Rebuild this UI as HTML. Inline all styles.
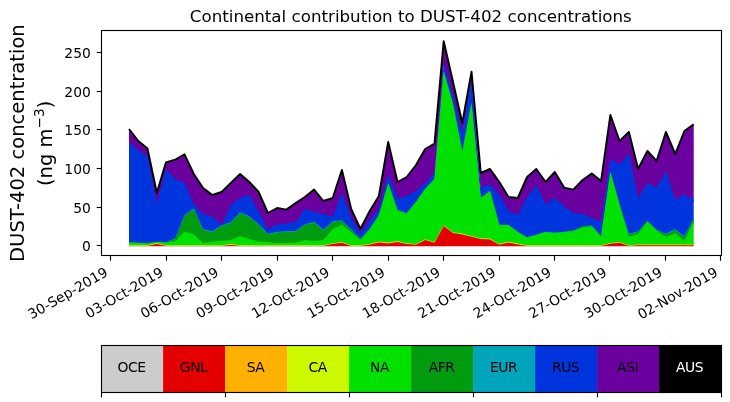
<!DOCTYPE html>
<html><head><meta charset="utf-8"><title>Continental contribution to DUST-402 concentrations</title>
<style>
html,body{margin:0;padding:0;background:#fff;}
body{width:730px;height:402px;overflow:hidden;}
svg{display:block;}
svg text{font-family:"DejaVu Sans","Liberation Sans",sans-serif;}
</style></head><body>
<svg width="730" height="402" viewBox="0 0 730 402">
<rect width="730" height="402" fill="#fff"/>
<g>
<polygon points="129.0,129.00 138.3,141.00 147.5,148.60 156.8,193.00 166.0,162.40 175.3,159.60 184.5,154.40 193.8,174.00 203.1,188.00 212.3,195.00 221.6,192.00 230.8,183.00 240.1,174.00 249.3,182.00 258.6,192.00 267.9,213.00 277.1,208.00 286.4,209.60 295.6,203.00 304.9,197.00 314.1,189.60 323.4,201.00 332.7,198.00 341.9,170.00 351.2,209.00 360.4,229.00 369.7,211.00 378.9,196.00 388.2,142.00 397.5,182.00 406.7,177.00 416.0,165.00 425.2,149.00 434.5,143.60 443.7,41.30 453.0,82.00 462.3,123.00 471.5,71.80 480.8,173.00 490.0,169.00 499.3,182.00 508.5,197.00 517.8,198.00 527.1,177.00 536.3,169.00 545.6,182.00 554.8,172.00 564.1,187.60 573.3,189.60 582.6,180.00 591.8,173.50 601.1,181.00 610.4,115.00 619.6,141.00 628.9,132.00 638.1,169.00 647.4,151.00 656.6,161.00 665.9,132.00 675.2,154.00 684.4,131.00 693.7,124.40 693.7,202.00 684.4,198.00 675.2,202.60 665.9,174.00 656.6,190.60 647.4,186.00 638.1,201.00 628.9,156.60 619.6,167.40 610.4,162.00 601.1,225.00 591.8,221.00 582.6,217.00 573.3,216.00 564.1,209.00 554.8,201.00 545.6,207.00 536.3,188.00 527.1,200.00 517.8,218.00 508.5,214.00 499.3,198.00 490.0,187.00 480.8,191.00 471.5,83.00 462.3,135.00 453.0,98.00 443.7,66.00 434.5,176.00 425.2,186.00 416.0,194.00 406.7,199.00 397.5,201.00 388.2,177.00 378.9,212.00 369.7,223.00 360.4,236.00 351.2,221.00 341.9,196.00 332.7,219.40 323.4,217.00 314.1,215.00 304.9,212.00 295.6,225.00 286.4,226.60 277.1,227.40 267.9,232.00 258.6,214.50 249.3,198.00 240.1,201.00 230.8,208.00 221.6,228.00 212.3,219.40 203.1,217.00 193.8,207.00 184.5,186.00 175.3,182.00 166.0,172.00 156.8,206.50 147.5,159.00 138.3,153.00 129.0,145.00" fill="#6a009d"/>
<polygon points="129.0,142.00 138.3,150.00 147.5,156.00 156.8,203.50 166.0,169.00 175.3,179.00 184.5,183.00 193.8,204.00 203.1,214.00 212.3,216.40 221.6,225.00 230.8,205.00 240.1,198.00 249.3,195.00 258.6,211.50 267.9,229.00 277.1,224.40 286.4,223.60 295.6,222.00 304.9,209.00 314.1,212.00 323.4,214.00 332.7,216.40 341.9,193.00 351.2,218.00 360.4,233.00 369.7,220.00 378.9,209.00 388.2,174.00 397.5,198.00 406.7,196.00 416.0,191.00 425.2,183.00 434.5,173.00 443.7,63.00 453.0,95.00 462.3,132.00 471.5,80.00 480.8,188.00 490.0,184.00 499.3,195.00 508.5,211.00 517.8,215.00 527.1,197.00 536.3,185.00 545.6,204.00 554.8,198.00 564.1,206.00 573.3,213.00 582.6,214.00 591.8,218.00 601.1,222.00 610.4,159.00 619.6,164.40 628.9,153.60 638.1,198.00 647.4,183.00 656.6,187.60 665.9,171.00 675.2,199.60 684.4,195.00 693.7,199.00 693.7,221.30 684.4,239.30 675.2,232.30 665.9,236.70 656.6,232.75 647.4,223.75 638.1,234.30 628.9,236.70 619.6,207.75 610.4,174.75 601.1,239.15 591.8,228.35 582.6,229.15 573.3,233.75 564.1,234.75 554.8,235.75 545.6,234.75 536.3,237.75 527.1,240.35 517.8,234.75 508.5,227.75 499.3,227.75 490.0,193.75 480.8,200.75 471.5,105.75 462.3,154.75 453.0,106.75 443.7,74.35 434.5,181.75 425.2,191.75 416.0,204.75 406.7,216.35 397.5,212.75 388.2,185.75 378.9,217.75 369.7,231.75 360.4,241.75 351.2,232.30 341.9,223.30 332.7,224.30 323.4,232.70 314.1,224.70 304.9,227.30 295.6,233.90 286.4,234.30 277.1,234.70 267.9,236.70 258.6,227.30 249.3,219.30 240.1,215.30 230.8,225.30 221.6,228.30 212.3,234.30 203.1,232.30 193.8,211.30 184.5,218.30 175.3,241.30 166.0,245.15 156.8,244.75 147.5,246.00 138.3,245.75 129.0,245.15" fill="#0035dd"/>
<polygon points="129.0,242.15 138.3,242.75 147.5,243.35 156.8,241.75 166.0,242.15 175.3,238.30 184.5,215.30 193.8,208.30 203.1,229.30 212.3,231.30 221.6,225.30 230.8,222.30 240.1,212.30 249.3,216.30 258.6,224.30 267.9,233.70 277.1,231.70 286.4,231.30 295.6,230.90 304.9,224.30 314.1,221.70 323.4,229.70 332.7,221.30 341.9,220.30 351.2,229.30 360.4,238.75 369.7,228.75 378.9,214.75 388.2,182.75 397.5,209.75 406.7,213.35 416.0,201.75 425.2,188.75 434.5,178.75 443.7,71.35 453.0,103.75 462.3,151.75 471.5,102.75 480.8,197.75 490.0,190.75 499.3,224.75 508.5,224.75 517.8,231.75 527.1,237.35 536.3,234.75 545.6,231.75 554.8,232.75 564.1,231.75 573.3,230.75 582.6,226.15 591.8,225.35 601.1,236.15 610.4,171.75 619.6,204.75 628.9,233.70 638.1,231.30 647.4,220.75 656.6,229.75 665.9,233.70 675.2,229.30 684.4,236.30 693.7,218.30 693.7,222.00 684.4,240.00 675.2,233.00 665.9,237.40 656.6,233.00 647.4,224.00 638.1,235.00 628.9,237.40 619.6,208.00 610.4,175.00 601.1,239.40 591.8,228.60 582.6,229.40 573.3,234.00 564.1,235.00 554.8,236.00 545.6,235.00 536.3,238.00 527.1,240.60 517.8,235.00 508.5,228.00 499.3,228.00 490.0,194.00 480.8,201.00 471.5,106.00 462.3,155.00 453.0,107.00 443.7,74.60 434.5,182.00 425.2,192.00 416.0,205.00 406.7,216.60 397.5,213.00 388.2,186.00 378.9,218.00 369.7,232.00 360.4,242.00 351.2,233.00 341.9,224.00 332.7,225.00 323.4,233.40 314.1,225.40 304.9,228.00 295.6,234.60 286.4,235.00 277.1,235.40 267.9,237.40 258.6,228.00 249.3,220.00 240.1,216.00 230.8,226.00 221.6,229.00 212.3,235.00 203.1,233.00 193.8,212.00 184.5,219.00 175.3,242.00 166.0,245.40 156.8,245.00 147.5,246.00 138.3,246.00 129.0,245.40" fill="#00a4bb"/>
<polygon points="129.0,242.40 138.3,243.00 147.5,243.60 156.8,242.00 166.0,242.40 175.3,239.00 184.5,216.00 193.8,209.00 203.1,230.00 212.3,232.00 221.6,226.00 230.8,223.00 240.1,213.00 249.3,217.00 258.6,225.00 267.9,234.40 277.1,232.40 286.4,232.00 295.6,231.60 304.9,225.00 314.1,222.40 323.4,230.40 332.7,222.00 341.9,221.00 351.2,230.00 360.4,239.00 369.7,229.00 378.9,215.00 388.2,183.00 397.5,210.00 406.7,213.60 416.0,202.00 425.2,189.00 434.5,179.00 443.7,71.60 453.0,104.00 462.3,152.00 471.5,103.00 480.8,198.00 490.0,191.00 499.3,225.00 508.5,225.00 517.8,232.00 527.1,237.60 536.3,235.00 545.6,232.00 554.8,233.00 564.1,232.00 573.3,231.00 582.6,226.40 591.8,225.60 601.1,236.40 610.4,172.00 619.6,205.00 628.9,234.40 638.1,232.00 647.4,221.00 656.6,230.00 665.9,234.40 675.2,230.00 684.4,237.00 693.7,219.00 693.7,224.00 684.4,244.00 675.2,236.00 665.9,240.00 656.6,233.40 647.4,224.40 638.1,237.00 628.9,239.40 619.6,208.00 610.4,175.00 601.1,239.40 591.8,229.60 582.6,230.60 573.3,234.00 564.1,235.00 554.8,236.00 545.6,235.00 536.3,238.00 527.1,240.60 517.8,235.00 508.5,228.00 499.3,228.00 490.0,194.00 480.8,201.00 471.5,106.00 462.3,155.00 453.0,107.00 443.7,74.60 434.5,182.00 425.2,192.00 416.0,205.00 406.7,216.60 397.5,213.40 388.2,186.40 378.9,218.40 369.7,232.40 360.4,243.00 351.2,235.00 341.9,227.40 332.7,232.00 323.4,243.00 314.1,244.00 304.9,243.00 295.6,245.40 286.4,246.00 277.1,246.00 267.9,245.00 258.6,244.60 249.3,242.00 240.1,239.00 230.8,243.00 221.6,244.00 212.3,244.60 203.1,246.00 193.8,237.40 184.5,234.60 175.3,244.00 166.0,245.40 156.8,245.00 147.5,246.00 138.3,246.00 129.0,245.40" fill="#009b0f"/>
<polygon points="129.0,242.40 138.3,243.00 147.5,243.60 156.8,242.00 166.0,242.40 175.3,241.00 184.5,231.60 193.8,234.40 203.1,243.00 212.3,241.60 221.6,241.00 230.8,240.00 240.1,236.00 249.3,239.00 258.6,241.60 267.9,242.00 277.1,243.00 286.4,243.00 295.6,242.40 304.9,240.00 314.1,241.00 323.4,240.00 332.7,229.00 341.9,224.40 351.2,232.00 360.4,240.00 369.7,229.40 378.9,215.40 388.2,183.40 397.5,210.40 406.7,213.60 416.0,202.00 425.2,189.00 434.5,179.00 443.7,71.60 453.0,104.00 462.3,152.00 471.5,103.00 480.8,198.00 490.0,191.00 499.3,225.00 508.5,225.00 517.8,232.00 527.1,237.60 536.3,235.00 545.6,232.00 554.8,233.00 564.1,232.00 573.3,231.00 582.6,227.60 591.8,226.60 601.1,236.40 610.4,172.00 619.6,205.00 628.9,236.40 638.1,234.00 647.4,221.40 656.6,230.40 665.9,237.00 675.2,233.00 684.4,241.00 693.7,221.00 693.7,246.00 684.4,246.00 675.2,246.00 665.9,246.00 656.6,246.00 647.4,246.00 638.1,246.00 628.9,246.00 619.6,245.00 610.4,246.00 601.1,246.00 591.8,246.00 582.6,246.00 573.3,246.00 564.1,246.00 554.8,246.00 545.6,246.00 536.3,246.00 527.1,246.00 517.8,246.00 508.5,244.60 499.3,246.00 490.0,241.60 480.8,241.20 471.5,239.00 462.3,236.60 453.0,235.20 443.7,228.20 434.5,245.00 425.2,242.20 416.0,246.00 406.7,246.00 397.5,244.10 388.2,245.60 378.9,244.60 369.7,246.00 360.4,246.00 351.2,246.00 341.9,245.00 332.7,246.00 323.4,246.00 314.1,246.00 304.9,246.00 295.6,246.00 286.4,246.00 277.1,246.00 267.9,246.00 258.6,246.00 249.3,246.00 240.1,246.00 230.8,246.00 221.6,246.00 212.3,246.00 203.1,246.00 193.8,246.00 184.5,246.00 175.3,246.00 166.0,246.00 156.8,246.00 147.5,246.00 138.3,246.00 129.0,246.00" fill="#00e100"/>
<polygon points="129.0,245.15 138.3,245.15 147.5,245.15 156.8,243.10 166.0,245.15 175.3,245.15 184.5,245.15 193.8,245.15 203.1,245.15 212.3,245.15 221.6,245.15 230.8,244.00 240.1,245.15 249.3,245.15 258.6,245.15 267.9,245.15 277.1,245.15 286.4,245.15 295.6,245.15 304.9,245.15 314.1,245.15 323.4,245.15 332.7,243.20 341.9,242.00 351.2,245.15 360.4,245.15 369.7,244.00 378.9,241.60 388.2,242.60 397.5,241.10 406.7,243.20 416.0,244.00 425.2,239.20 434.5,242.00 443.7,225.20 453.0,232.20 462.3,233.60 471.5,236.00 480.8,238.20 490.0,238.60 499.3,244.00 508.5,241.60 517.8,243.60 527.1,245.15 536.3,245.15 545.6,245.15 554.8,245.15 564.1,245.15 573.3,245.15 582.6,245.15 591.8,245.15 601.1,245.15 610.4,243.00 619.6,242.00 628.9,245.15 638.1,244.55 647.4,244.55 656.6,244.55 665.9,244.55 675.2,244.55 684.4,244.55 693.7,244.55 693.7,246.00 684.4,246.00 675.2,246.00 665.9,246.00 656.6,246.00 647.4,246.00 638.1,246.00 628.9,246.00 619.6,245.60 610.4,246.00 601.1,246.00 591.8,246.00 582.6,246.00 573.3,246.00 564.1,246.00 554.8,246.00 545.6,246.00 536.3,246.00 527.1,246.00 517.8,246.00 508.5,245.20 499.3,246.00 490.0,242.20 480.8,241.80 471.5,239.60 462.3,237.20 453.0,235.80 443.7,228.80 434.5,245.60 425.2,242.80 416.0,246.00 406.7,246.00 397.5,244.70 388.2,246.00 378.9,245.20 369.7,246.00 360.4,246.00 351.2,246.00 341.9,245.60 332.7,246.00 323.4,246.00 314.1,246.00 304.9,246.00 295.6,246.00 286.4,246.00 277.1,246.00 267.9,246.00 258.6,246.00 249.3,246.00 240.1,246.00 230.8,246.00 221.6,246.00 212.3,246.00 203.1,246.00 193.8,246.00 184.5,246.00 175.3,246.00 166.0,246.00 156.8,246.00 147.5,246.00 138.3,246.00 129.0,246.00" fill="#ccf900"/>
<polygon points="129.0,245.75 138.3,245.75 147.5,245.75 156.8,243.70 166.0,245.75 175.3,245.75 184.5,245.75 193.8,245.75 203.1,245.75 212.3,245.75 221.6,245.75 230.8,244.90 240.1,245.75 249.3,245.75 258.6,245.75 267.9,245.75 277.1,245.75 286.4,245.75 295.6,245.75 304.9,245.75 314.1,245.75 323.4,245.75 332.7,243.80 341.9,242.60 351.2,245.75 360.4,245.75 369.7,244.60 378.9,242.20 388.2,243.20 397.5,241.70 406.7,243.80 416.0,244.60 425.2,239.80 434.5,242.60 443.7,225.80 453.0,232.80 462.3,234.20 471.5,236.60 480.8,238.80 490.0,239.20 499.3,244.60 508.5,242.20 517.8,244.20 527.1,245.75 536.3,245.75 545.6,245.75 554.8,245.75 564.1,245.75 573.3,245.75 582.6,245.75 591.8,245.75 601.1,245.75 610.4,243.60 619.6,242.60 628.9,245.75 638.1,245.15 647.4,245.15 656.6,245.15 665.9,245.15 675.2,245.15 684.4,245.15 693.7,245.15 693.7,246.00 684.4,246.00 675.2,246.00 665.9,246.00 656.6,246.00 647.4,246.00 638.1,246.00 628.9,246.00 619.6,245.80 610.4,246.00 601.1,246.00 591.8,246.00 582.6,246.00 573.3,246.00 564.1,246.00 554.8,246.00 545.6,246.00 536.3,246.00 527.1,246.00 517.8,246.00 508.5,245.40 499.3,246.00 490.0,242.40 480.8,242.00 471.5,239.80 462.3,237.40 453.0,236.00 443.7,229.00 434.5,245.80 425.2,243.00 416.0,246.00 406.7,246.00 397.5,244.90 388.2,246.00 378.9,245.40 369.7,246.00 360.4,246.00 351.2,246.00 341.9,245.80 332.7,246.00 323.4,246.00 314.1,246.00 304.9,246.00 295.6,246.00 286.4,246.00 277.1,246.00 267.9,246.00 258.6,246.00 249.3,246.00 240.1,246.00 230.8,246.00 221.6,246.00 212.3,246.00 203.1,246.00 193.8,246.00 184.5,246.00 175.3,246.00 166.0,246.00 156.8,246.00 147.5,246.00 138.3,246.00 129.0,246.00" fill="#ffb000"/>
<polygon points="129.0,245.95 138.3,245.95 147.5,245.95 156.8,243.90 166.0,245.95 175.3,245.95 184.5,245.95 193.8,245.95 203.1,245.95 212.3,245.95 221.6,245.95 230.8,245.10 240.1,245.95 249.3,245.95 258.6,245.95 267.9,245.95 277.1,245.95 286.4,245.95 295.6,245.95 304.9,245.95 314.1,245.95 323.4,245.95 332.7,244.00 341.9,242.80 351.2,245.95 360.4,245.95 369.7,244.80 378.9,242.40 388.2,243.40 397.5,241.90 406.7,244.00 416.0,244.80 425.2,240.00 434.5,242.80 443.7,226.00 453.0,233.00 462.3,234.40 471.5,236.80 480.8,239.00 490.0,239.40 499.3,244.80 508.5,242.40 517.8,244.40 527.1,245.95 536.3,245.95 545.6,245.95 554.8,245.95 564.1,245.95 573.3,245.95 582.6,245.95 591.8,245.95 601.1,245.95 610.4,243.80 619.6,242.80 628.9,245.95 638.1,245.35 647.4,245.35 656.6,245.35 665.9,245.35 675.2,245.35 684.4,245.35 693.7,245.35 693.7,246.30 684.4,246.30 675.2,246.30 665.9,246.30 656.6,246.30 647.4,246.30 638.1,246.30 628.9,246.30 619.6,246.30 610.4,246.30 601.1,246.30 591.8,246.30 582.6,246.30 573.3,246.30 564.1,246.30 554.8,246.30 545.6,246.30 536.3,246.30 527.1,246.30 517.8,246.30 508.5,246.30 499.3,246.30 490.0,246.30 480.8,246.30 471.5,246.30 462.3,246.30 453.0,246.30 443.7,246.30 434.5,246.30 425.2,246.30 416.0,246.30 406.7,246.30 397.5,246.30 388.2,246.30 378.9,246.30 369.7,246.30 360.4,246.30 351.2,246.30 341.9,246.30 332.7,246.30 323.4,246.30 314.1,246.30 304.9,246.30 295.6,246.30 286.4,246.30 277.1,246.30 267.9,246.30 258.6,246.30 249.3,246.30 240.1,246.30 230.8,246.30 221.6,246.30 212.3,246.30 203.1,246.30 193.8,246.30 184.5,246.30 175.3,246.30 166.0,246.30 156.8,246.30 147.5,246.30 138.3,246.30 129.0,246.30" fill="#e50000"/>
<polyline points="129.0,129.0 138.3,141.0 147.5,148.6 156.8,193.0 166.0,162.4 175.3,159.6 184.5,154.4 193.8,174.0 203.1,188.0 212.3,195.0 221.6,192.0 230.8,183.0 240.1,174.0 249.3,182.0 258.6,192.0 267.9,213.0 277.1,208.0 286.4,209.6 295.6,203.0 304.9,197.0 314.1,189.6 323.4,201.0 332.7,198.0 341.9,170.0 351.2,209.0 360.4,229.0 369.7,211.0 378.9,196.0 388.2,142.0 397.5,182.0 406.7,177.0 416.0,165.0 425.2,149.0 434.5,143.6 443.7,41.3 453.0,82.0 462.3,123.0 471.5,71.8 480.8,173.0 490.0,169.0 499.3,182.0 508.5,197.0 517.8,198.0 527.1,177.0 536.3,169.0 545.6,182.0 554.8,172.0 564.1,187.6 573.3,189.6 582.6,180.0 591.8,173.5 601.1,181.0 610.4,115.0 619.6,141.0 628.9,132.0 638.1,169.0 647.4,151.0 656.6,161.0 665.9,132.0 675.2,154.0 684.4,131.0 693.7,124.4" fill="none" stroke="#000" stroke-width="1.95" stroke-linejoin="round" stroke-linecap="butt"/>
</g>
<g>
<rect x="101.5" y="30.5" width="620.0" height="225.0" fill="none" stroke="#000" stroke-width="1.11"/>
<line x1="96.64" y1="245.50" x2="101.5" y2="245.50" stroke="#000" stroke-width="1.11"/>
<text x="90.8" y="250.8" text-anchor="end" font-size="13.89">0</text>
<line x1="96.64" y1="207.50" x2="101.5" y2="207.50" stroke="#000" stroke-width="1.11"/>
<text x="90.8" y="212.8" text-anchor="end" font-size="13.89">50</text>
<line x1="96.64" y1="168.50" x2="101.5" y2="168.50" stroke="#000" stroke-width="1.11"/>
<text x="90.8" y="173.8" text-anchor="end" font-size="13.89">100</text>
<line x1="96.64" y1="129.50" x2="101.5" y2="129.50" stroke="#000" stroke-width="1.11"/>
<text x="90.8" y="134.8" text-anchor="end" font-size="13.89">150</text>
<line x1="96.64" y1="91.50" x2="101.5" y2="91.50" stroke="#000" stroke-width="1.11"/>
<text x="90.8" y="96.8" text-anchor="end" font-size="13.89">200</text>
<line x1="96.64" y1="52.50" x2="101.5" y2="52.50" stroke="#000" stroke-width="1.11"/>
<text x="90.8" y="57.8" text-anchor="end" font-size="13.89">250</text>
<line x1="110.50" y1="255.5" x2="110.50" y2="260.70" stroke="#000" stroke-width="1.11"/>
<text transform="translate(108.8,275.0) rotate(-30)" text-anchor="end" font-size="13.89">30-Sep-2019</text>
<line x1="166.50" y1="255.5" x2="166.50" y2="260.70" stroke="#000" stroke-width="1.11"/>
<text transform="translate(164.3,275.0) rotate(-30)" text-anchor="end" font-size="13.89">03-Oct-2019</text>
<line x1="221.50" y1="255.5" x2="221.50" y2="260.70" stroke="#000" stroke-width="1.11"/>
<text transform="translate(219.7,275.0) rotate(-30)" text-anchor="end" font-size="13.89">06-Oct-2019</text>
<line x1="277.50" y1="255.5" x2="277.50" y2="260.70" stroke="#000" stroke-width="1.11"/>
<text transform="translate(275.2,275.0) rotate(-30)" text-anchor="end" font-size="13.89">09-Oct-2019</text>
<line x1="332.50" y1="255.5" x2="332.50" y2="260.70" stroke="#000" stroke-width="1.11"/>
<text transform="translate(330.6,275.0) rotate(-30)" text-anchor="end" font-size="13.89">12-Oct-2019</text>
<line x1="388.50" y1="255.5" x2="388.50" y2="260.70" stroke="#000" stroke-width="1.11"/>
<text transform="translate(386.1,275.0) rotate(-30)" text-anchor="end" font-size="13.89">15-Oct-2019</text>
<line x1="443.50" y1="255.5" x2="443.50" y2="260.70" stroke="#000" stroke-width="1.11"/>
<text transform="translate(441.5,275.0) rotate(-30)" text-anchor="end" font-size="13.89">18-Oct-2019</text>
<line x1="499.50" y1="255.5" x2="499.50" y2="260.70" stroke="#000" stroke-width="1.11"/>
<text transform="translate(497.0,275.0) rotate(-30)" text-anchor="end" font-size="13.89">21-Oct-2019</text>
<line x1="554.50" y1="255.5" x2="554.50" y2="260.70" stroke="#000" stroke-width="1.11"/>
<text transform="translate(552.4,275.0) rotate(-30)" text-anchor="end" font-size="13.89">24-Oct-2019</text>
<line x1="609.50" y1="255.5" x2="609.50" y2="260.70" stroke="#000" stroke-width="1.11"/>
<text transform="translate(607.9,275.0) rotate(-30)" text-anchor="end" font-size="13.89">27-Oct-2019</text>
<line x1="665.50" y1="255.5" x2="665.50" y2="260.70" stroke="#000" stroke-width="1.11"/>
<text transform="translate(663.3,275.0) rotate(-30)" text-anchor="end" font-size="13.89">30-Oct-2019</text>
<line x1="720.50" y1="255.5" x2="720.50" y2="260.70" stroke="#000" stroke-width="1.11"/>
<text transform="translate(718.8,275.0) rotate(-30)" text-anchor="end" font-size="13.89">02-Nov-2019</text>
<text x="410.8" y="22" text-anchor="middle" font-size="16.71">Continental contribution to DUST-402 concentrations</text>
<text transform="translate(23.8,143.1) rotate(-90)" text-anchor="middle" font-size="19.55">DUST-402 concentration</text>
<text transform="translate(51.9,143.3) rotate(-90)" text-anchor="middle" font-size="19.55">(ng m<tspan dy="-7.6" font-size="13.7">−3</tspan><tspan dy="7.6">)</tspan></text>
</g>
<g>
<rect x="101.10" y="345.5" width="62.40" height="47.0" fill="#cccccc"/>
<rect x="163.10" y="345.5" width="62.40" height="47.0" fill="#e50000"/>
<rect x="225.10" y="345.5" width="62.40" height="47.0" fill="#ffb000"/>
<rect x="287.10" y="345.5" width="62.40" height="47.0" fill="#ccf900"/>
<rect x="349.10" y="345.5" width="62.40" height="47.0" fill="#00e100"/>
<rect x="411.10" y="345.5" width="62.40" height="47.0" fill="#009b0f"/>
<rect x="473.10" y="345.5" width="62.40" height="47.0" fill="#00a4bb"/>
<rect x="535.10" y="345.5" width="62.40" height="47.0" fill="#0035dd"/>
<rect x="597.10" y="345.5" width="62.40" height="47.0" fill="#6a009d"/>
<rect x="659.10" y="345.5" width="62.40" height="47.0" fill="#000000"/>
<text x="131.6" y="371.8" text-anchor="middle" font-size="13.89" letter-spacing="-0.45" fill="#000">OCE</text>
<text x="193.6" y="371.8" text-anchor="middle" font-size="13.89" letter-spacing="-0.45" fill="#000">GNL</text>
<text x="255.6" y="371.8" text-anchor="middle" font-size="13.89" letter-spacing="-0.45" fill="#000">SA</text>
<text x="317.6" y="371.8" text-anchor="middle" font-size="13.89" letter-spacing="-0.45" fill="#000">CA</text>
<text x="379.6" y="371.8" text-anchor="middle" font-size="13.89" letter-spacing="-0.45" fill="#000">NA</text>
<text x="441.6" y="371.8" text-anchor="middle" font-size="13.89" letter-spacing="-0.45" fill="#000">AFR</text>
<text x="503.6" y="371.8" text-anchor="middle" font-size="13.89" letter-spacing="-0.45" fill="#000">EUR</text>
<text x="565.6" y="371.8" text-anchor="middle" font-size="13.89" letter-spacing="-0.45" fill="#000">RUS</text>
<text x="627.6" y="371.8" text-anchor="middle" font-size="13.89" letter-spacing="-0.45" fill="#000">ASI</text>
<text x="689.6" y="371.8" text-anchor="middle" font-size="13.89" letter-spacing="-0.45" fill="#fff">AUS</text>
<rect x="101.5" y="345.5" width="620.0" height="47.0" fill="none" stroke="#000" stroke-width="1.11"/>
<line x1="101.50" y1="392.5" x2="101.50" y2="397.36" stroke="#000" stroke-width="1.11"/>
<line x1="225.50" y1="392.5" x2="225.50" y2="397.36" stroke="#000" stroke-width="1.11"/>
<line x1="349.50" y1="392.5" x2="349.50" y2="397.36" stroke="#000" stroke-width="1.11"/>
<line x1="473.50" y1="392.5" x2="473.50" y2="397.36" stroke="#000" stroke-width="1.11"/>
<line x1="597.50" y1="392.5" x2="597.50" y2="397.36" stroke="#000" stroke-width="1.11"/>
<line x1="721.50" y1="392.5" x2="721.50" y2="397.36" stroke="#000" stroke-width="1.11"/>
</g>
</svg>
</body></html>
